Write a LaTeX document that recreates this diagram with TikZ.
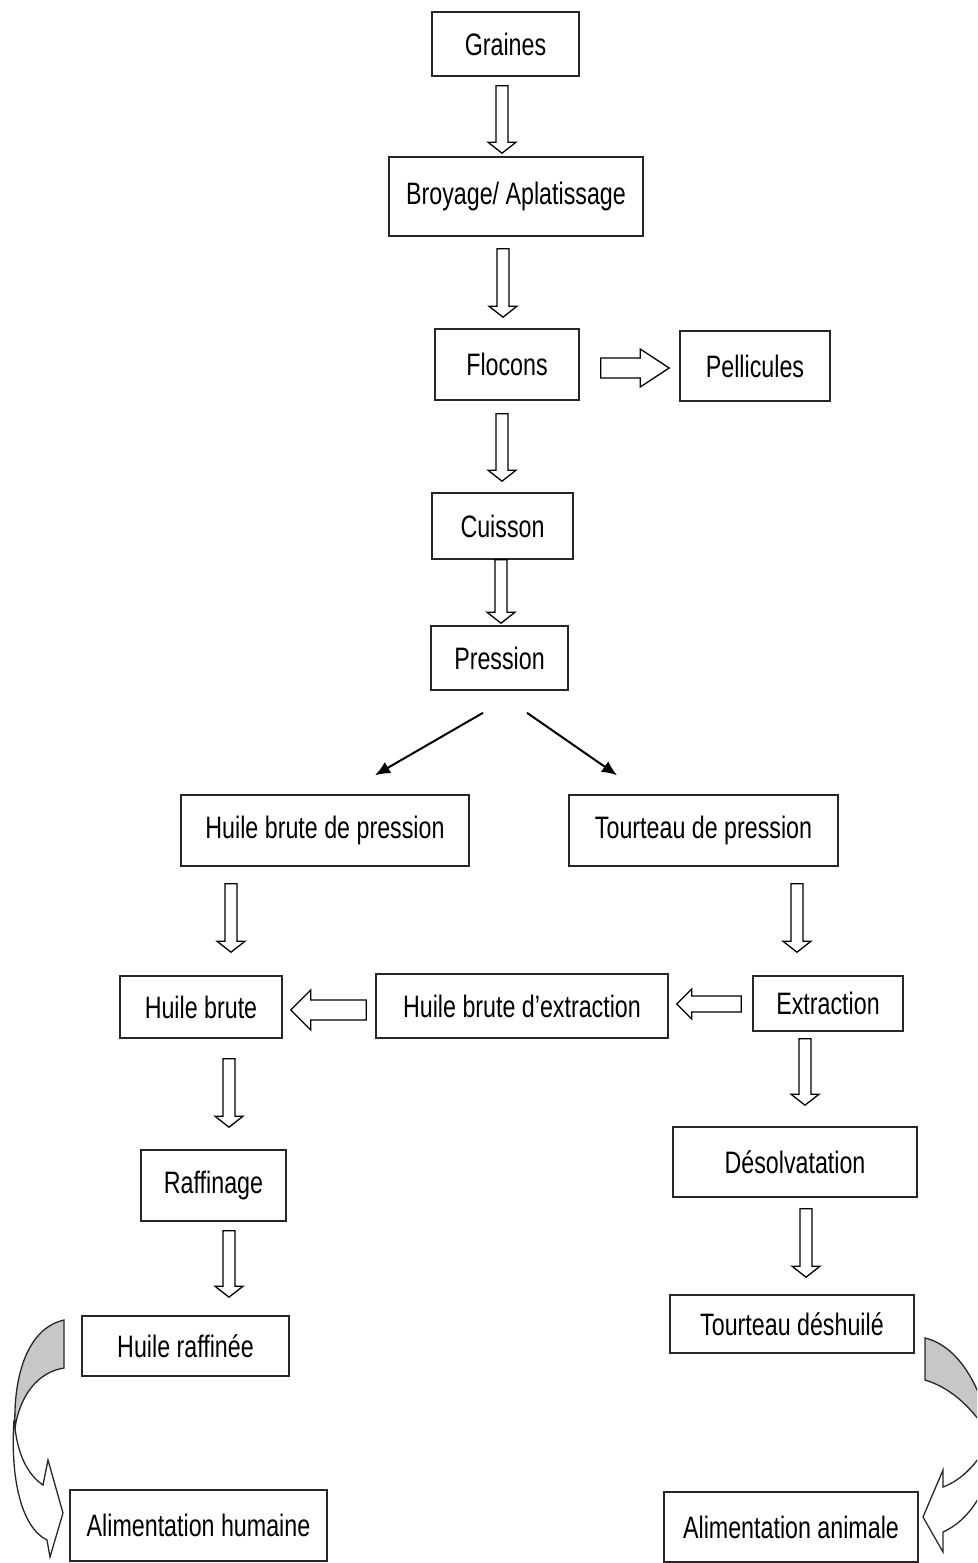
\documentclass[tikz,border=0pt]{standalone}
\usepackage{fontspec}
\setmainfont[FakeStretch=0.75]{Liberation Sans}
\usetikzlibrary{calc,arrows.meta}
\newcommand\hollowarrow[5]{%
  \draw[hollow] let \p1=#1, \p2=#2, \n1={atan2(\y2-\y1,\x2-\x1)}, \n2={veclen(\x2-\x1,\y2-\y1)} in
   [shift={(\p1)}, rotate=\n1] (0pt,#3pt) -- (\n2-#5pt,#3pt) -- (\n2-#5pt,#4pt) -- (\n2,0pt) -- (\n2-#5pt,-#4pt) -- (\n2-#5pt,-#3pt) -- (0pt,-#3pt) -- cycle;}
\tikzset{
  box/.style={draw=black!85, line width=1.6pt, inner sep=0pt, fill=white,
    font=\fontsize{31}{36}\selectfont},
  hollow/.style={draw=black, line width=1.3pt, fill=white, line join=miter},
  diag/.style={draw=black, line width=2pt, -{Latex[length=15pt,width=13pt]}},
  curveback/.style={draw=black!85, line width=1.3pt, fill=black!22},
  curvefront/.style={draw=black!85, line width=1.3pt, fill=white},
}
\begin{document}
\begin{tikzpicture}[x=1pt,y=1pt]
\useasboundingbox (0,0) rectangle (977,-1563);
\clip (0,0) rectangle (977,-1563);

% nodes
\node[box, minimum width=147pt, minimum height=64pt] (graines) at (505.5,-44) {Graines};
\node[box, minimum width=254pt, minimum height=79pt] (broyage) at (516,-196.5) {Broyage/ Aplatissage};
\node[box, minimum width=144pt, minimum height=71pt] (flocons) at (507,-364.5) {Flocons};
\node[box, minimum width=150pt, minimum height=70pt] (pellicules) at (755,-366) {Pellicules};
\node[box, minimum width=141pt, minimum height=66pt] (cuisson) at (502.5,-526) {Cuisson};
\node[box, minimum width=137pt, minimum height=64pt] (pression) at (499.5,-658) {Pression};
\node[box, minimum width=288pt, minimum height=71pt] (hbp) at (325,-830.5) {Huile brute de pression};
\node[box, minimum width=269pt, minimum height=71pt] (tdp) at (703.5,-830.5) {Tourteau de pression};
\node[box, minimum width=162pt, minimum height=62pt] (hb) at (201,-1007) {Huile brute};
\node[box, minimum width=292pt, minimum height=64pt] (hbe) at (522,-1006) {Huile brute d’extraction};
\node[box, minimum width=150pt, minimum height=55pt] (extraction) at (828,-1003.5) {Extraction};
\node[box, minimum width=145pt, minimum height=71pt] (raffinage) at (213.5,-1185.5) {Raffinage};
\node[box, minimum width=244pt, minimum height=70pt] (desolv) at (795,-1162) {Désolvatation};
\node[box, minimum width=207pt, minimum height=60pt] (hr) at (185.5,-1346) {Huile raffinée};
\node[box, minimum width=244pt, minimum height=58pt] (td) at (792,-1324) {Tourteau déshuilé};
\node[box, minimum width=257pt, minimum height=71pt] (ah) at (198.5,-1525.5) {Alimentation humaine};
\node[box, minimum width=254pt, minimum height=70pt] (aa) at (791,-1527) {Alimentation animale};

% vertical hollow arrows
\hollowarrow{($(graines.south)+(-3.5,-9)$)}{($(broyage.north)+(-14,3)$)}{6}{14}{11}
\hollowarrow{($(broyage.south)+(-13,-12)$)}{($(flocons.north)+(-4,11)$)}{6}{14}{11}
\hollowarrow{($(flocons.south)+(-5,-13)$)}{($(cuisson.north)+(-0.5,11)$)}{6}{14}{11}
\hollowarrow{($(cuisson.south)+(-1.5,0)$)}{($(pression.north)+(1.5,2)$)}{6}{14}{11}
\hollowarrow{($(hbp.south)+(-94,-17)$)}{($(hb.north)+(30,23)$)}{6}{14}{11}
\hollowarrow{($(tdp.south)+(93.5,-17)$)}{($(extraction.north)+(-31,23)$)}{6}{14}{11}
\hollowarrow{($(extraction.south)+(-23,-7)$)}{($(desolv.north)+(10,21)$)}{6}{14}{11}
\hollowarrow{($(hb.south)+(28,-20)$)}{($(raffinage.north)+(15.5,22)$)}{6}{14}{11}
\hollowarrow{($(raffinage.south)+(15.5,-9)$)}{($(hr.north)+(43.5,18)$)}{6}{14}{11}
\hollowarrow{($(desolv.south)+(11,-11)$)}{($(td.north)+(14,17)$)}{6}{14}{11}

% horizontal hollow arrows
\hollowarrow{($(flocons.east)+(21,-3.5)$)}{($(pellicules.west)+(-10,-2)$)}{10}{19}{29}
\hollowarrow{($(extraction.west)+(-11,-0.5)$)}{($(hbe.east)+(8,2)$)}{8}{15}{15}
\hollowarrow{($(hbe.west)+(-9,-4)$)}{($(hb.east)+(8,-3)$)}{10}{20}{20}

% diagonal arrows
\draw[diag] ($(pression.south)+(-16.5,-22)$) -- ($(hbp.north)+(50,19)$);
\draw[diag] ($(pression.south)+(27.5,-22)$) -- ($(tdp.north)+(-86.5,19)$);

% curved arrow: Huile raffinee -> Alimentation humaine
\draw[curvefront] (14,-1420) .. controls (10,-1480) and (22,-1528) .. (47,-1540)
  -- (50,-1557) -- (63,-1513) -- (48,-1460) -- (43,-1485)
  .. controls (28,-1475) and (18,-1455) .. (15,-1428) -- cycle;
\draw[curveback] (64,-1320) -- (64,-1368) .. controls (38,-1372) and (20,-1395) .. (15,-1428)
  .. controls (13,-1375) and (28,-1328) .. (64,-1320) -- cycle;

% curved arrow: Tourteau deshuile -> Alimentation animale
\draw[curvefront] (992,-1435) .. controls (980,-1462) and (962,-1480) .. (943,-1487)
  -- (943,-1470) -- (923,-1517) -- (943,-1552) -- (943,-1532)
  .. controls (970,-1520) and (988,-1490) .. (995,-1450) -- cycle;
\draw[curveback] (925,-1338) -- (925,-1380) .. controls (952,-1388) and (975,-1410) .. (992,-1440)
  .. controls (982,-1385) and (958,-1346) .. (925,-1338) -- cycle;
\end{tikzpicture}
\end{document}
